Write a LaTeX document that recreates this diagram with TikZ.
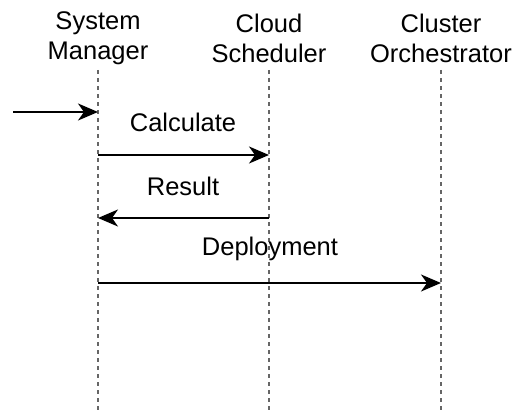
\documentclass[tikz,border=0pt]{standalone}
\usepackage{fontspec}
\setmainfont{Liberation Sans}
\usetikzlibrary{arrows.meta}
\begin{document}
\begin{tikzpicture}[x=1pt,y=-1pt,
  actor/.style={align=center,font=\fontsize{25.5}{30}\selectfont,inner sep=0pt},
  lifeline/.style={draw=gray!80!black,line width=1.3pt,dash pattern=on 4pt off 4pt},
  msg/.style={draw=black,line width=2pt,-{Stealth[length=20pt,width=17pt,inset=6pt]}},
  lbl/.style={font=\fontsize{25.5}{30}\selectfont,inner sep=0pt}]
\useasboundingbox (0,0) rectangle (514,412);
% participants
\node[actor] (sm) at (98,38.5) {System\\Manager};
\node[actor] (cs) at (269,38.5) {Cloud\\Scheduler};
\node[actor] (co) at (441,38.5) {Cluster\\Orchestrator};
% lifelines
\coordinate (smT) at (98,70);  \coordinate (smB) at (98,412);
\coordinate (csT) at (269,70); \coordinate (csB) at (269,412);
\coordinate (coT) at (441,70); \coordinate (coB) at (441,412);
\draw[lifeline] (smT) -- (smB);
\draw[lifeline] (csT) -- (csB);
\draw[lifeline] (coT) -- (coB);
% messages
\coordinate (in) at (13,112);
\coordinate (sm1) at (98,112);
\draw[msg] (in) -- (sm1);
\coordinate (sm2) at (98,155); \coordinate (cs2) at (269,155);
\draw[msg] (sm2) -- (cs2);
\node[lbl] (l1) at (183,122) {Calculate};
\coordinate (cs3) at (269,218); \coordinate (sm3) at (98,218);
\draw[msg] (cs3) -- (sm3);
\node[lbl] (l2) at (183,186) {Result};
\coordinate (sm4) at (98,283); \coordinate (co4) at (441,283);
\draw[msg] (sm4) -- (co4);
\node[lbl] (l3) at (270,249) {Deployment};
\end{tikzpicture}
\end{document}
